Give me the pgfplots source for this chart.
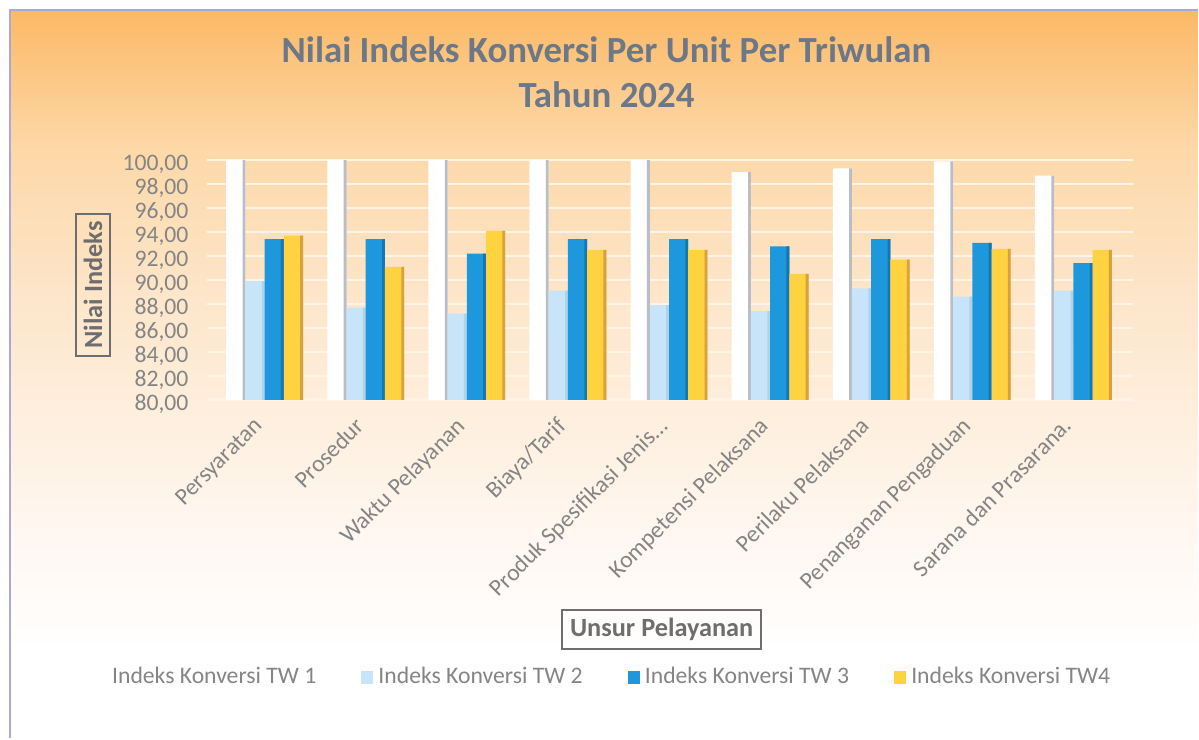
\documentclass[border=0pt]{standalone}
\usepackage{pgfplots}
\pgfplotsset{compat=1.18}
\usepackage{fontspec}
\setmainfont{Carlito}
\definecolor{titlec}{HTML}{6C7888}
\definecolor{tickc}{HTML}{858585}
\definecolor{labc}{HTML}{6E6E6E}
\definecolor{twA}{HTML}{FFFFFF}
\definecolor{twAs}{HTML}{B9BDC6}
\definecolor{twB}{HTML}{C8E4F8}
\definecolor{twBs}{HTML}{B0D2EC}
\definecolor{twC}{HTML}{1E98DD}
\definecolor{twCs}{HTML}{1676B4}
\definecolor{twD}{HTML}{FFD23F}
\definecolor{twDs}{HTML}{D9A040}
\definecolor{bgA}{HTML}{FBB966}
\definecolor{bgB}{HTML}{FDD8A8}
\definecolor{bgC}{HTML}{FDE6CB}
\definecolor{bgD}{HTML}{FEF0E0}
\definecolor{bgE}{HTML}{FFF8F3}
\definecolor{framec}{HTML}{ABA8D8}
\definecolor{gridc}{HTML}{FFF3E6}
\pgfdeclareverticalshading{bgshade}{100bp}{color(0bp)=(white); color(25bp)=(white); color(31bp)=(white); color(38bp)=(bgE); color(46bp)=(bgD); color(55bp)=(bgC); color(65.5bp)=(bgB); color(75bp)=(bgA); color(100bp)=(bgA)}

\pgfplotstableread{
x tw1 tw2 tw3 tw4
0 100.0 89.9 93.4 93.7
1 100.0 87.7 93.4 91.1
2 100.0 87.2 92.2 94.1
3 100.0 89.1 93.4 92.5
4 100.0 87.9 93.4 92.5
5 99.0 87.4 92.8 90.5
6 99.3 89.3 93.4 91.7
7 99.9 88.6 93.1 92.6
8 98.7 89.1 91.4 92.5
}\datatable

\begin{document}
\begin{tikzpicture}[x=0.013344cm,y=0.013344cm]
% background
\fill[white] (0,0) rectangle (1199,739);
\shade[shading=bgshade] (10,0) rectangle (1199,729);
\draw[framec, line width=0.8pt] (10,0) -- (10,729) -- (1199,729);
% title
\node[font=\fontsize{14}{17}\selectfont\bfseries, text=titlec, align=center] at (607,739-72) {Nilai Indeks Konversi Per Unit Per Triwulan\\Tahun 2024};
\begin{axis}[
  at={(2.762cm,4.524cm)}, anchor=south west,
  scale only axis, width=12.383cm, height=3.203cm,
  xmin=-0.573, xmax=8.593, ymin=80, ymax=100,
  ytick={80,82,...,100},
  axis line style={draw=none},
  tick style={draw=none},
  ymajorgrids, major grid style={draw=gridc, line width=1pt},
  yticklabel style={font=\fontsize{9}{10}\selectfont, text=tickc, xshift=-3.4pt, yshift=-1.5pt},
  /pgf/number format/.cd, fixed, fixed zerofill, precision=2, use comma, 1000 sep={}, assume math mode=true,
  /pgfplots/.cd,
  xtick={0,...,8},
  xticklabels={Persyaratan,Prosedur,Waktu Pelayanan,Biaya/Tarif,Produk Spesifikasi Jenis…,Kompetensi Pelaksana,Perilaku Pelaksana,Penanganan Pengaduan,Sarana dan Prasarana.},
  xticklabel style={font=\fontsize{9}{10}\selectfont, text=tickc, xshift=-4.5pt, yshift=-4.5pt, rotate=45, anchor=north east, inner sep=1pt},
  xlabel={Unsur Pelayanan},
  xlabel style={font=\fontsize{10}{12}\selectfont\bfseries, text=labc, draw=labc, line width=0.7pt, inner sep=3pt, at={(axis description cs:0.491,-0.958)}, anchor=center},
  ylabel={Nilai Indeks},
  ylabel style={font=\fontsize{10}{12}\selectfont\bfseries, text=labc, draw=labc, line width=0.7pt, inner sep=3pt, at={(axis description cs:-0.1228,0.479)}, anchor=center, rotate=0},
  legend columns=4,
  legend style={draw=none, fill=none, font=\fontsize{9}{10}\selectfont, text=tickc, at={(axis description cs:0.430,-1.158)}, anchor=center, /tikz/every even column/.append style={column sep=0.53cm}},
  legend image code/.code={\fill[#1] (0cm,-0.09cm) rectangle (0.16cm,0.09cm);},
]
\addplot[ybar, bar width=0.19, bar shift=-0.285, fill=twA, draw=none] table[x=x,y=tw1]{\datatable};
\addlegendentry{Indeks Konversi TW 1}
\addplot[ybar, bar width=0.028, bar shift=-0.204, fill=twAs, draw=none, forget plot] table[x=x,y=tw1]{\datatable};
\addplot[ybar, bar width=0.19, bar shift=-0.095, fill=twB, draw=none] table[x=x,y=tw2]{\datatable};
\addlegendentry{Indeks Konversi TW 2}
\addplot[ybar, bar width=0.028, bar shift=-0.014, fill=twBs, draw=none, forget plot] table[x=x,y=tw2]{\datatable};
\addplot[ybar, bar width=0.19, bar shift=0.095, fill=twC, draw=none] table[x=x,y=tw3]{\datatable};
\addlegendentry{Indeks Konversi TW 3}
\addplot[ybar, bar width=0.028, bar shift=0.176, fill=twCs, draw=none, forget plot] table[x=x,y=tw3]{\datatable};
\addplot[ybar, bar width=0.19, bar shift=0.285, fill=twD, draw=none] table[x=x,y=tw4]{\datatable};
\addlegendentry{Indeks Konversi TW4}
\addplot[ybar, bar width=0.028, bar shift=0.366, fill=twDs, draw=none, forget plot] table[x=x,y=tw4]{\datatable};
\end{axis}
\end{tikzpicture}
\end{document}
